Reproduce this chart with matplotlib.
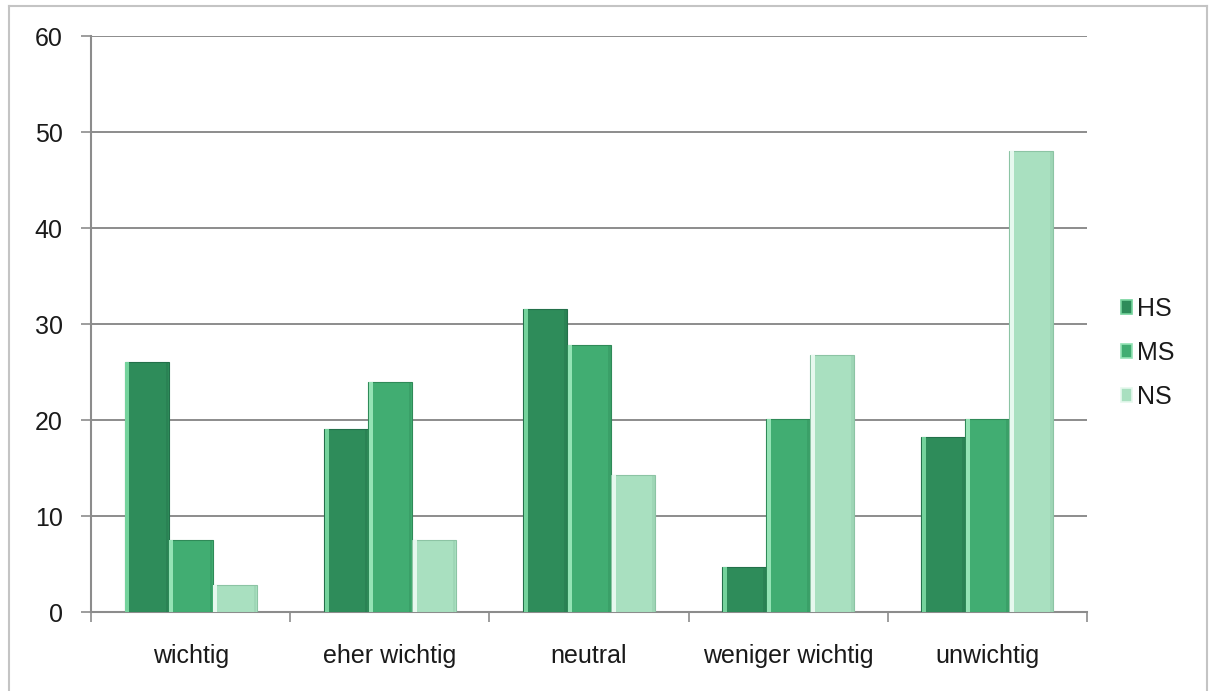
import matplotlib
matplotlib.use("Agg")
import matplotlib.pyplot as plt
from matplotlib.lines import Line2D
from matplotlib.patches import Patch
import numpy as np

plt.rcParams['font.family'] = ['Liberation Sans', 'DejaVu Sans']

categories = ["wichtig", "eher wichtig", "neutral", "weniger wichtig", "unwichtig"]
series_names = ["HS", "MS", "NS"]
hs_values = [26.0, 19.1, 31.6, 4.7, 18.2]
ms_values = [7.5, 24.0, 27.8, 20.1, 20.1]
ns_values = [2.8, 7.5, 14.3, 26.8, 48.0]
y_ticks = [0, 10, 20, 30, 40, 50, 60]

face_colors = ["#2e8c5a", "#41ad72", "#a9e0c0"]
light_colors = ["#74d39c", "#94e3b5", "#e6f8ee"]
edge_colors = ["#23704a", "#2f8a58", "#8cc4a4"]

fig = plt.figure(figsize=(12.1, 6.91), dpi=100)
ax = fig.add_axes([91 / 1210, 1 - 612 / 691, (1087 - 91) / 1210, (612 - 36) / 691])

x = np.arange(len(categories))
bar_w = 0.221
offsets = [-bar_w, 0.0, bar_w]
all_values = [hs_values, ms_values, ns_values]

for vals, off, fc, lc, ec in zip(all_values, offsets, face_colors, light_colors, edge_colors):
    pos = x + off
    # main face of each bar
    ax.bar(pos, vals, width=bar_w, color=fc, edgecolor=ec, linewidth=0.8, zorder=3)
    # bevelled highlight along the left side
    hl_w = bar_w * 0.09
    ax.bar(pos - bar_w / 2 + hl_w / 2 + 0.004, vals, width=hl_w, color=lc,
           linewidth=0, zorder=4)
    # soft shade along the right side
    sh_w = bar_w * 0.06
    ax.bar(pos + bar_w / 2 - sh_w / 2 - 0.002, vals, width=sh_w, color=ec,
           alpha=0.35, linewidth=0, zorder=4)

ax.set_xlim(-0.5, len(categories) - 0.5)
ax.set_ylim(0, 60)
ax.set_yticks(y_ticks)
ax.set_yticklabels([str(t) for t in y_ticks])
ax.yaxis.grid(True, color="#8c8c8c", linewidth=1.4, zorder=0)
ax.set_axisbelow(True)

ax.set_xticks(x)
ax.set_xticklabels(categories)
ax.tick_params(axis="x", length=0, pad=23, labelsize=18, labelcolor="#1a1a1a")
ax.set_xticks(np.arange(len(categories) + 1) - 0.5, minor=True)
ax.tick_params(axis="x", which="minor", length=7, width=1.2, color="#8c8c8c", direction="out")
ax.tick_params(axis="y", length=7, width=1.2, color="#8c8c8c", pad=13.5,
               labelsize=18, labelcolor="#1a1a1a")

for side in ["top", "right"]:
    ax.spines[side].set_visible(False)
for side in ["left", "bottom"]:
    ax.spines[side].set_color("#8c8c8c")
    ax.spines[side].set_linewidth(1.5)

handles = [Patch(facecolor=fc, edgecolor=lc, linewidth=1.2) for fc, lc in zip(face_colors, light_colors)]
leg = fig.legend(handles, series_names, loc="center left",
                 bbox_to_anchor=(1121 / 1210, 1 - 353 / 691), frameon=False,
                 borderaxespad=0, borderpad=0,
                 fontsize=18, handlelength=0.45, handleheight=0.45,
                 handletextpad=0.2, labelspacing=0.8)
for t in leg.get_texts():
    t.set_color("#1a1a1a")

# outer chart frame
frame_kw = dict(color="#c4c4c4", linewidth=1.5, transform=fig.transFigure)
fig.add_artist(Line2D([9 / 1210, 9 / 1210], [0, 1 - 6 / 691], **frame_kw))
fig.add_artist(Line2D([9 / 1210, 1207 / 1210], [1 - 6 / 691, 1 - 6 / 691], **frame_kw))
fig.add_artist(Line2D([1207 / 1210, 1207 / 1210], [0, 1 - 6 / 691], **frame_kw))

fig.savefig("out.png", dpi=100)
